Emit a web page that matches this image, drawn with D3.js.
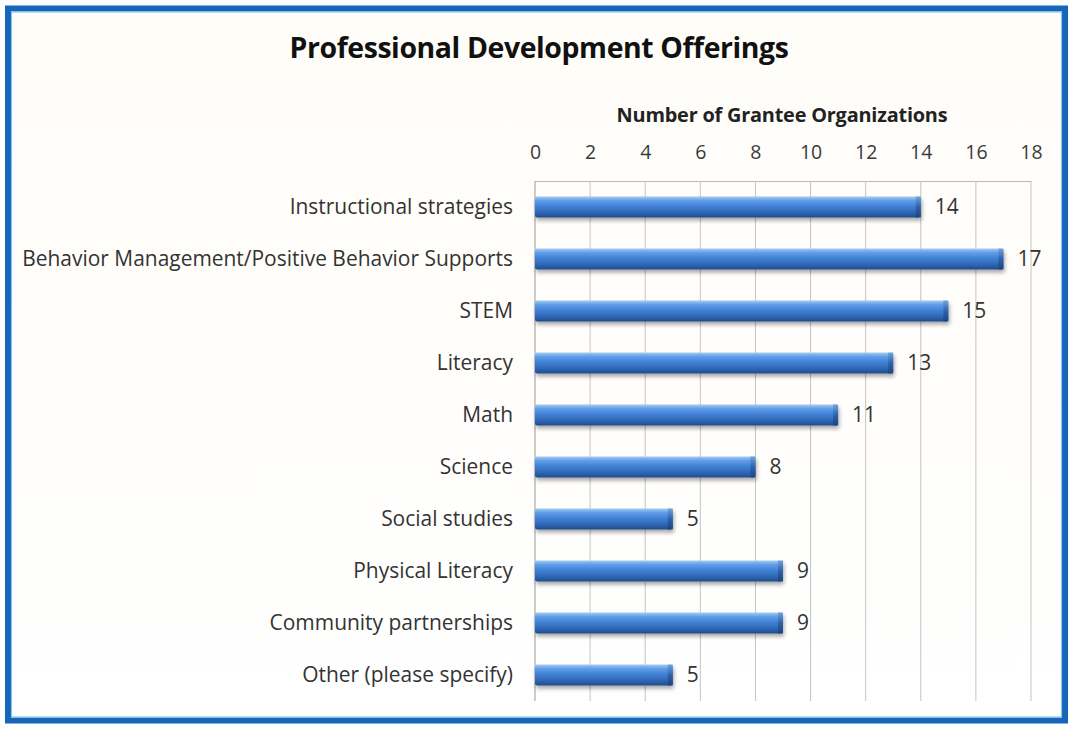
<!DOCTYPE html>
<html>
<head>
<meta charset="utf-8">
<script src="https://cdn.jsdelivr.net/npm/d3@7"></script>
<style>
  html, body { margin: 0; padding: 0; background: #ffffff; }
  svg { display: block; }
</style>
</head>
<body>
<svg id="chart" width="1072" height="729"></svg>
<script>
// Professional development offerings by grantee organizations
const categories = [
  "Instructional strategies",
  "Behavior Management/Positive Behavior Supports",
  "STEM",
  "Literacy",
  "Math",
  "Science",
  "Social studies",
  "Physical Literacy",
  "Community partnerships",
  "Other (please specify)"
];
const counts = [14, 17, 15, 13, 11, 8, 5, 9, 9, 5];
const tickValues = [0, 2, 4, 6, 8, 10, 12, 14, 16, 18];

const chartTitle = "Professional Development Offerings";
const axisTitle = "Number of Grantee Organizations";

const W = 1072, H = 729;
const svg = d3.select("#chart");
const font = "'Open Sans', sans-serif";

// Shrink or grow a text node's font size so it spans the given width
function fitWidth(sel, target) {
  const node = sel.node();
  const fs = parseFloat(sel.attr("font-size"));
  const w = node.getComputedTextLength();
  const nfs = fs * target / w;
  sel.attr("font-size", nfs);
  return nfs;
}

const defs = svg.append("defs");
const bg = defs.append("linearGradient").attr("id", "frameBg")
  .attr("x1", 0).attr("y1", 0).attr("x2", 0).attr("y2", 1);
bg.append("stop").attr("offset", "0%").attr("stop-color", "#fffdf8");
bg.append("stop").attr("offset", "100%").attr("stop-color", "#ffffff");

const barGrad = defs.append("linearGradient").attr("id", "barGrad")
  .attr("x1", 0).attr("y1", 0).attr("x2", 0).attr("y2", 1);
[["0%", "#a4ccf4"], ["18%", "#64a0e8"], ["45%", "#4183d8"], ["80%", "#2d64b0"], ["100%", "#1f4b8c"]]
  .forEach(([o, c]) => barGrad.append("stop").attr("offset", o).attr("stop-color", c));

const capGrad = defs.append("linearGradient").attr("id", "capGrad")
  .attr("x1", 0).attr("y1", 0).attr("x2", 0).attr("y2", 1);
[["0%", "#6fa2de"], ["50%", "#2f62a8"], ["100%", "#1d4580"]]
  .forEach(([o, c]) => capGrad.append("stop").attr("offset", o).attr("stop-color", c));

const shadow = defs.append("filter").attr("id", "barShadow")
  .attr("x", "-5%").attr("y", "-30%").attr("width", "110%").attr("height", "190%");
shadow.append("feGaussianBlur").attr("in", "SourceAlpha").attr("stdDeviation", 2);
shadow.append("feOffset").attr("dx", 1).attr("dy", 3).attr("result", "off");
shadow.append("feComponentTransfer").append("feFuncA").attr("type", "linear").attr("slope", 0.35);
const merge = shadow.append("feMerge");
merge.append("feMergeNode");
merge.append("feMergeNode").attr("in", "SourceGraphic");

// Frame
svg.append("rect").attr("x", 0).attr("y", 0).attr("width", W).attr("height", H).attr("fill", "#ffffff");
svg.append("rect").attr("x", 8).attr("y", 8.5).attr("width", 1057).attr("height", 712)
  .attr("fill", "url(#frameBg)").attr("stroke", "#1565b8").attr("stroke-width", 6);
svg.append("rect").attr("x", 11.5).attr("y", 12).attr("width", 1050).attr("height", 705)
  .attr("fill", "none").attr("stroke", "#8ec3ee").attr("stroke-width", 1.2);

// Scales
const margin = { left: 535, right: 1031, top: 181, bottom: 701 };
const x = d3.scaleLinear().domain([0, 18]).range([margin.left, margin.right]);
const y = d3.scaleBand().domain(categories).range([margin.top, margin.bottom]).paddingInner(0.6).paddingOuter(0.3);

// Titles
const t1 = svg.append("text").attr("x", 539).attr("y", 58).attr("text-anchor", "middle")
  .attr("font-family", font).attr("font-weight", 700).attr("font-size", 26)
  .attr("fill", "#111").attr("letter-spacing", -0.4).text(chartTitle);
fitWidth(t1, 498);
const t2 = svg.append("text").attr("x", 782).attr("y", 122).attr("text-anchor", "middle")
  .attr("font-family", font).attr("font-weight", 700).attr("font-size", 17)
  .attr("fill", "#222").attr("letter-spacing", -0.2).text(axisTitle);
fitWidth(t2, 330);

// Top axis with vertical gridlines
const xAxis = svg.append("g").attr("transform", `translate(0,${margin.top})`)
  .call(d3.axisTop(x).tickValues(tickValues).tickSize(0).tickPadding(22));
xAxis.select(".domain").attr("stroke", "#b8b8b8");
xAxis.selectAll("text").attr("font-family", font).attr("font-size", 19.5).attr("fill", "#3a3a3a");

svg.append("g").selectAll("line.grid").data(tickValues).join("line")
  .attr("class", "grid")
  .attr("x1", d => x(d)).attr("x2", d => x(d))
  .attr("y1", margin.top).attr("y2", margin.bottom)
  .attr("stroke", d => d === 0 ? "#999" : "#c4c4c4").attr("stroke-width", 1);

// Category labels
const cats = svg.append("g").selectAll("text.cat").data(categories).join("text")
  .attr("class", "cat")
  .attr("x", margin.left - 22)
  .attr("y", d => y(d) + y.bandwidth() / 2)
  .attr("dy", "0.35em").attr("text-anchor", "end")
  .attr("font-family", font).attr("font-size", 18).attr("fill", "#333")
  .text(d => d);
// size all labels so the longest spans the left margin
const longest = cats.filter((d, i) => i === 1);
const labelSize = fitWidth(longest, 491);
cats.attr("font-size", labelSize);

// Bars
const rows = categories.map((c, i) => ({ c, v: counts[i] }));
const bars = svg.append("g").selectAll("g.bar").data(rows).join("g")
  .attr("class", "bar").attr("filter", "url(#barShadow)");
bars.append("rect")
  .attr("x", x(0)).attr("y", d => y(d.c))
  .attr("width", d => x(d.v) - x(0)).attr("height", y.bandwidth())
  .attr("rx", 2).attr("fill", "url(#barGrad)");
bars.append("rect")
  .attr("x", d => x(d.v) - 5).attr("y", d => y(d.c))
  .attr("width", 5).attr("height", y.bandwidth())
  .attr("fill", "url(#capGrad)");

// Value labels
svg.append("g").selectAll("text.val").data(rows).join("text")
  .attr("class", "val")
  .attr("x", d => x(d.v) + 14)
  .attr("y", d => y(d.c) + y.bandwidth() / 2)
  .attr("dy", "0.35em")
  .attr("font-family", font).attr("font-size", labelSize).attr("fill", "#333")
  .text(d => d.v);
</script>
</body>
</html>
